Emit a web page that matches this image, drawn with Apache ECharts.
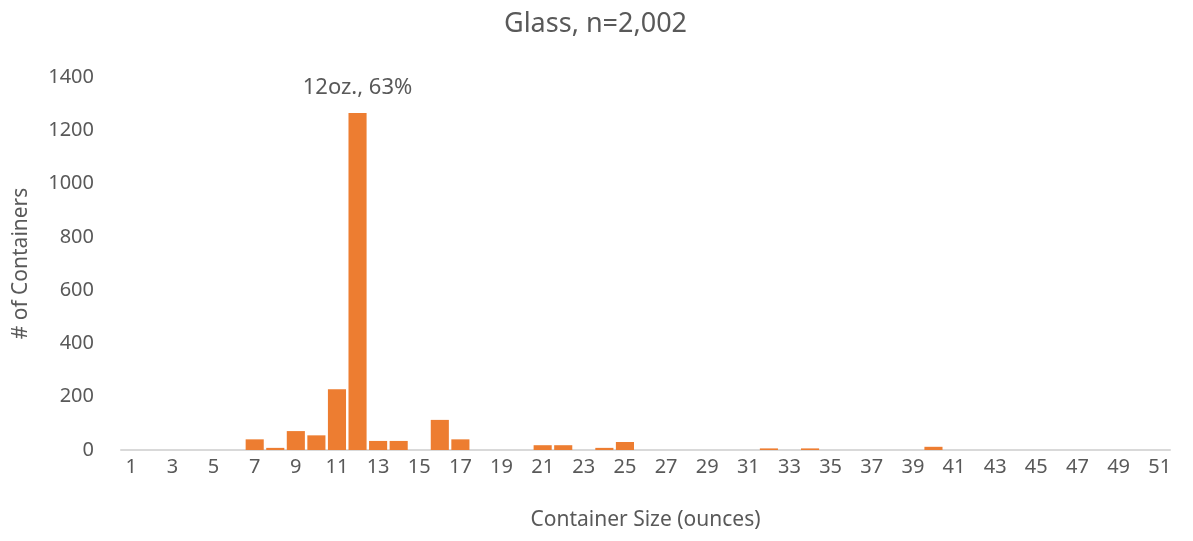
<!DOCTYPE html>
<html>
<head>
<meta charset="utf-8">
<script src="https://cdn.jsdelivr.net/npm/echarts@6/dist/echarts.min.js"></script>
<style>
  html, body { margin: 0; padding: 0; background: #fff; }
  #chart { width: 1193px; height: 541px; }
</style>
</head>
<body>
<div id="chart"></div>
<script>
// container sizes 1..51 oz
const sizes = [];
for (let i = 1; i <= 51; i++) sizes.push(String(i));

// counts (sizes without a bar are 0)
const counts = [
  0, 0, 0, 0, 0, 0, 40, 8, 71, 55,
  228, 1265, 34, 34, 0, 113, 40, 0, 0, 0,
  18, 18, 0, 8, 30, 0, 0, 0, 0, 0,
  0, 6, 0, 6, 0, 0, 0, 0, 0, 12,
  0, 0, 0, 0, 0, 0, 0, 0, 0, 0,
  0
];

const yTicks = [0, 200, 400, 600, 800, 1000, 1200, 1400];
const peakLabel = '12oz., 63%';

const textColor = '#595959';
const font = 'Noto Sans';

const chart = echarts.init(document.getElementById('chart'));

const seriesData = counts.map((v, i) => {
  if (sizes[i] === '12') {
    return {
      value: v,
      label: {
        show: true,
        position: 'top',
        distance: 14,
        formatter: peakLabel,
        color: textColor,
        fontFamily: font,
        fontSize: 22
      }
    };
  }
  return v;
});

chart.setOption({
  animation: false,
  title: {
    text: 'Glass, n=2,002',
    left: 499,
    top: 6,
    textStyle: { color: textColor, fontFamily: font, fontSize: 27, fontWeight: 'normal' }
  },
  grid: { left: 121, right: 23, top: 77, bottom: 91 },
  xAxis: {
    type: 'category',
    data: sizes,
    name: 'Container Size (ounces)',
    nameLocation: 'middle',
    nameGap: 60,
    nameTextStyle: { color: textColor, fontFamily: font, fontSize: 21 },
    axisLine: { lineStyle: { color: '#d9d9d9', width: 2 } },
    axisTick: { show: false },
    axisLabel: { interval: 1, color: textColor, fontFamily: font, fontSize: 20, margin: 7 }
  },
  yAxis: {
    type: 'value',
    min: yTicks[0],
    max: yTicks[yTicks.length - 1],
    interval: 200,
    name: '# of Containers',
    nameLocation: 'middle',
    nameGap: 89,
    nameTextStyle: { color: textColor, fontFamily: font, fontSize: 21 },
    axisLine: { show: false },
    axisTick: { show: false },
    splitLine: { show: false },
    axisLabel: {
      color: textColor, fontFamily: font, fontSize: 20, margin: 27,
      formatter: v => String(v)
    }
  },
  series: [{
    type: 'bar',
    data: seriesData,
    barCategoryGap: '12%',
    itemStyle: { color: '#ed7d31' }
  }]
});
</script>
</body>
</html>
